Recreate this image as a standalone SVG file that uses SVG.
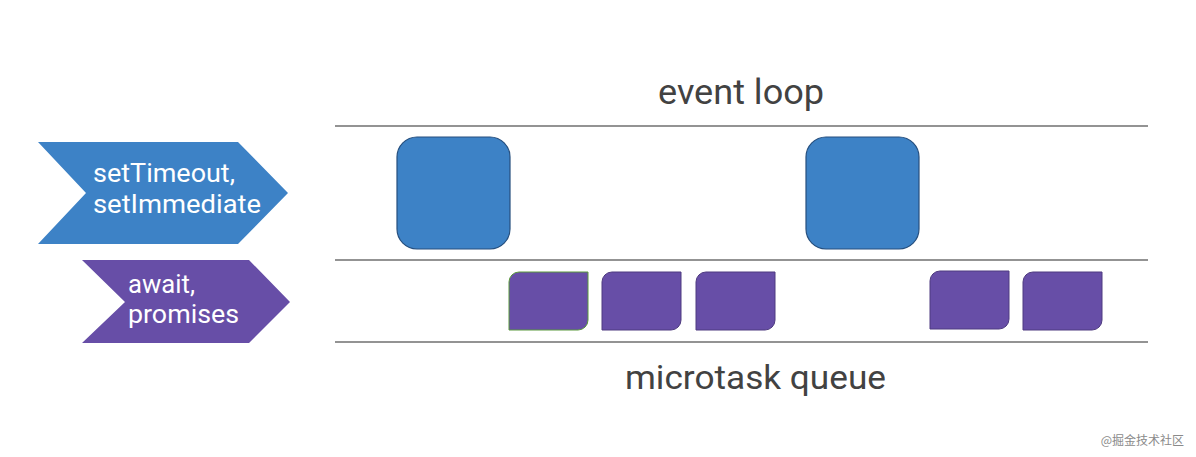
<svg xmlns="http://www.w3.org/2000/svg" width="1196" height="457" viewBox="0 0 1196 457">
<style>
.lane{stroke:#6f6f6f;stroke-width:1.5;fill:none}
.title{font-family:Roboto,"Liberation Sans",sans-serif;fill:#424242}
.lbl{font-family:Roboto,"Liberation Sans",sans-serif;fill:#ffffff;font-size:25px}
.blue{fill:#3d82c6;stroke:#264f7e;stroke-width:1.2}
.purple{fill:#674ea7;stroke:#4f3b80;stroke-width:1}
</style>
<rect width="1196" height="457" fill="#ffffff"/>
<g id="connectors">
<line class="lane" x1="335" y1="126" x2="1148" y2="126"/>
<line class="lane" x1="335" y1="260" x2="1148" y2="260"/>
<line class="lane" x1="335" y1="342" x2="1148" y2="342"/>
</g>
<g id="title-event-loop"><text class="title" x="658" y="104" font-size="35" textLength="166" lengthAdjust="spacingAndGlyphs">event loop</text></g>
<g id="title-microtask"><text class="title" x="625" y="389" font-size="33" textLength="261" lengthAdjust="spacingAndGlyphs">microtask queue</text></g>
<g id="chevron-macro">
<polygon points="38,142 238,142 288,193 238,244 38,244 86,193" fill="#3d82c6"/>
<text class="lbl" x="93" y="182" textLength="142" lengthAdjust="spacingAndGlyphs">setTimeout,</text>
<text class="lbl" x="93" y="213" textLength="168" lengthAdjust="spacingAndGlyphs">setImmediate</text>
</g>
<g id="chevron-micro">
<polygon points="82,260 249,260 290,302 249,343 82,343 125,302" fill="#674ea7"/>
<text class="lbl" x="128" y="293" textLength="67" lengthAdjust="spacingAndGlyphs">await,</text>
<text class="lbl" x="128" y="323" textLength="111" lengthAdjust="spacingAndGlyphs">promises</text>
</g>
<g id="task1"><rect class="blue" x="397" y="137" width="113" height="112" rx="20"/></g>
<g id="task2"><rect class="blue" x="806" y="137" width="113" height="112" rx="20"/></g>
<defs>
<path id="mt" d="M10,0 H79 V48 A10,10 0 0 1 69,58 H0 V10 A10,10 0 0 1 10,0 Z"/>
</defs>
<g id="micro1"><use href="#mt" x="509" y="272" class="purple" style="stroke:#5b9a3c"/></g>
<g id="micro2"><use href="#mt" x="602" y="272" class="purple"/></g>
<g id="micro3"><use href="#mt" x="696" y="272" class="purple"/></g>
<g id="micro4"><use href="#mt" x="930" y="271" class="purple"/></g>
<g id="micro5"><use href="#mt" x="1023" y="272" class="purple"/></g>
<g id="watermark"><text x="1184" y="445" font-size="12" text-anchor="end" fill="#8a8a8a" font-family="'Noto Sans CJK SC',sans-serif">@掘金技术社区</text></g>
</svg>
